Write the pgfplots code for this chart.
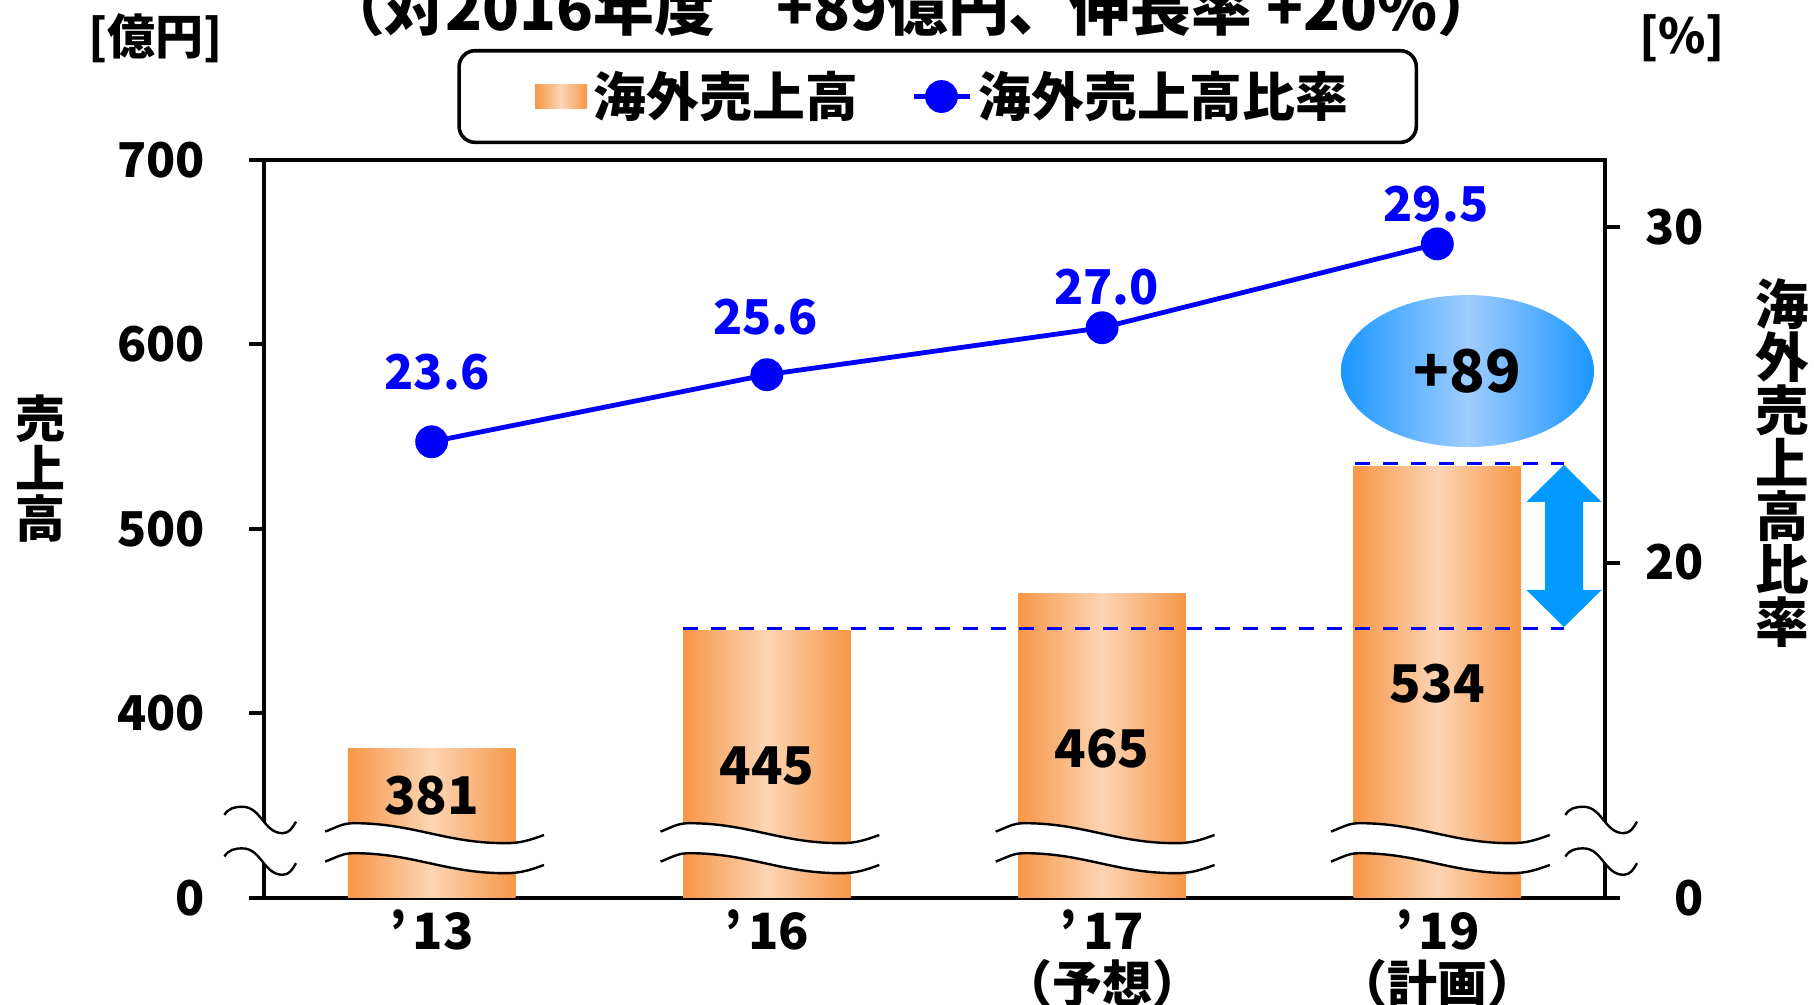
\documentclass[border=0pt]{standalone}
\usepackage{pgfplots}
\pgfplotsset{compat=1.18}
\usepackage{fontspec}
\setmainfont{Noto Sans CJK JP}
\usetikzlibrary{shapes.geometric}
\definecolor{barEdge}{RGB}{247,150,70}
\definecolor{barMid}{RGB}{252,213,181}
\definecolor{arrowBlue}{RGB}{0,153,255}
\definecolor{ellEdge}{RGB}{25,150,255}
\definecolor{ellMid}{RGB}{160,205,255}
\newcommand\fs[1]{\fontsize{#1}{#1}\selectfont\bfseries}
\newcommand\fsl[2]{\fontsize{#1}{#2}\selectfont\lineskiplimit=-20pt\bfseries}
\newcommand\ap{’\kern1.5pt}
\pgfplotsset{
  myline legend/.style={legend image code/.code={\draw[mark repeat=2,mark phase=2,##1] plot coordinates {(0pt,0pt) (7pt,0pt) (14pt,0pt)};}},
  mybar legend/.style={legend image code/.code={\shade[draw=none,sharp corners,left color=barEdge,right color=barEdge,middle color=barMid] (0pt,-3.1pt) rectangle (13pt,3.1pt);}},
  mybar/.style={ybar, bar width=0.5, draw=none, left color=barEdge, right color=barEdge, middle color=barMid},
}

\newcommand\barbrk[1]{%
\begin{scope}[shift={(#1)},x=1pt,y=1pt]
 \fill[white] (-26.6,16.6) to[out=20,in=180] (-19.5,18.7) to[out=0,in=180] (18.4,13.7) to[out=0,in=200] (28.1,15.75)
   -- (28.1,8.25) to[out=200,in=0] (18.4,6.2) to[out=180,in=0] (-19.5,11.2) to[out=180,in=20] (-26.6,9.1) -- cycle;
 \draw[line width=0.6pt] (-26.6,16.6) to[out=20,in=180] (-19.5,18.7) to[out=0,in=180] (18.4,13.7) to[out=0,in=200] (28.1,15.75);
 \draw[line width=0.6pt] (-26.6,9.1) to[out=20,in=180] (-19.5,11.2) to[out=0,in=180] (18.4,6.2) to[out=0,in=200] (28.1,8.25);
\end{scope}}
\newcommand\axbrk[1]{%
\begin{scope}[shift={(#1)},x=1pt,y=1pt]
 \fill[white] (-9.9,20.75) to[out=60,in=180] (-5.4,22.8) to[out=0,in=180] (4.65,16.2) to[out=0,in=240] (8,19.1)
   -- (8,8.7) to[out=240,in=0] (4.65,5.8) to[out=180,in=0] (-5.4,12.4) to[out=180,in=60] (-9.9,10.35) -- cycle;
 \draw[line width=0.6pt] (-9.9,20.75) to[out=60,in=180] (-5.4,22.8) to[out=0,in=180] (4.65,16.2) to[out=0,in=240] (8,19.1);
 \draw[line width=0.6pt] (-9.9,10.35) to[out=60,in=180] (-5.4,12.4) to[out=0,in=180] (4.65,5.8) to[out=0,in=240] (8,8.7);
\end{scope}}

\begin{document}
\begin{tikzpicture}
\useasboundingbox (-66pt,-26.75pt) rectangle (387.5pt,224.5pt);
\clip (-66pt,-26.75pt) rectangle (387.5pt,224.5pt);

\begin{axis}[
  at={(0pt,0pt)}, anchor=south west,
  scale only axis, width=335.25pt, height=184.5pt,
  xmin=-0.5, xmax=3.5, ymin=300, ymax=700,
  xtick={0,1,2,3},
  xticklabels={{\ap13},{\ap16},{\ap17\\（予想）},{\ap19\\（計画）}},
  xticklabel style={align=center, font=\fsl{12.5}{13.3}, inner sep=0pt, yshift=1pt},
  major x tick style={draw=none},
  ytick={300,400,500,600,700},
  yticklabels={0,400,500,600,700},
  ytick pos=left,
  yticklabel style={font=\fs{12}, inner sep=0pt},
  yticklabel shift=10.75pt,
  tick align=outside,
  major tick length=3.75pt,
  axis line style={line width=1pt},
  every tick/.style={line width=1pt, black},
  /pgf/number format/assume math mode=true,
]
\addplot[mybar] coordinates {(0,381)};
\addplot[mybar] coordinates {(1,445)};
\addplot[mybar] coordinates {(2,465)};
\addplot[mybar] coordinates {(3,534)};
\draw[blue, dash pattern=on 3.75pt off 3.25pt, line width=0.75pt] (axis cs:0.75,446) -- (axis cs:3.378,446);
\draw[blue, dash pattern=on 3.75pt off 3.25pt, line width=0.75pt] (axis cs:2.755,535.5) -- (axis cs:3.378,535.5);
\node[font=\fs{13}] at (axis cs:0,355.3) {381};
\node[font=\fs{13}] at (axis cs:1,371.5) {445};
\node[font=\fs{13}] at (axis cs:2,381) {465};
\node[font=\fs{13}] at (axis cs:3,416.1) {534};
\node[ellipse, minimum width=63.25pt, minimum height=38pt, inner sep=0pt, left color=ellEdge, right color=ellEdge, middle color=ellMid, font=\fs{14.7}] at (axis cs:3.09,585.6) {+89};
\coordinate (b0) at (axis cs:0,300);
\coordinate (b1) at (axis cs:1,300);
\coordinate (b2) at (axis cs:2,300);
\coordinate (b3) at (axis cs:3,300);
\end{axis}

\begin{axis}[
  at={(0pt,0pt)}, anchor=south west,
  scale only axis, width=335.25pt, height=184.5pt,
  xmin=-0.5, xmax=3.5, ymin=10, ymax=32,
  axis x line=none, axis y line*=right,
  ytick={10,20,30}, yticklabels={0,20,30},
  yticklabel style={font=\fs{12}, inner sep=0pt, anchor=east, xshift=21.1pt},
  tick align=outside, major tick length=3.75pt,
  axis line style={line width=1pt},
  every tick/.style={line width=1pt, black},
  /pgf/number format/assume math mode=true,
  legend columns=2,
  legend cell align=left,
  legend style={at={(0.5024,1.086)}, anchor=center, draw=black, line width=0.9pt, rounded corners=4pt,
    inner xsep=19pt, inner ysep=3.05pt, font=\fs{13.2}, column sep=-0.3pt,
    /tikz/every even column/.append style={column sep=11.3pt}},
]
\addlegendimage{mybar legend}
\addlegendentry{海外売上高}
\addplot[blue, line width=1.2pt, mark=*, mark size=3.5pt, mark options={fill=blue, draw=blue}, myline legend]
  coordinates {(0,23.6) (1,25.6) (2,27.0) (3,29.5)};
\addlegendentry{海外売上高比率\kern-4pt}
\node[font=\fs{12}, text=blue] at (axis cs:0.016,25.67) {23.6};
\node[font=\fs{12}, text=blue] at (axis cs:0.996,27.32) {25.6};
\node[font=\fs{12}, text=blue] at (axis cs:2.013,28.21) {27.0};
\node[font=\fs{12}, text=blue] at (axis cs:2.996,30.70) {29.5};
\end{axis}

\node[font=\fsl{12.5}{12.5}, align=center, inner sep=0pt] at (-55.9pt,107.4pt) {売\\上\\高};
\node[font=\fsl{13.4}{13.25}, align=center, inner sep=0pt] at (379.5pt,108.75pt) {海\\外\\売\\上\\高\\比\\率};
\node[font=\fs{12}] at (-27pt,215pt) {[億円]};
\node[font=\fs{12}] at (354.5pt,215pt) {[\%]};
\node[font=\fs{15.2}, anchor=base] at (161.75pt,216.75pt) {（対2016年度　+89億円、伸長率 +20\%）};

\foreach \c in {b0,b1,b2,b3} {\barbrk{\c}}
\axbrk{0pt,0pt}
\axbrk{335.25pt,0pt}
\fill[arrowBlue, x=1pt, y=1pt] (325,108.25) -- (334.4,99) -- (329.75,99) -- (329.75,77) -- (334.4,77) -- (325,67.75)
  -- (315.6,77) -- (320.25,77) -- (320.25,99) -- (315.6,99) -- cycle;
\end{tikzpicture}
\end{document}
